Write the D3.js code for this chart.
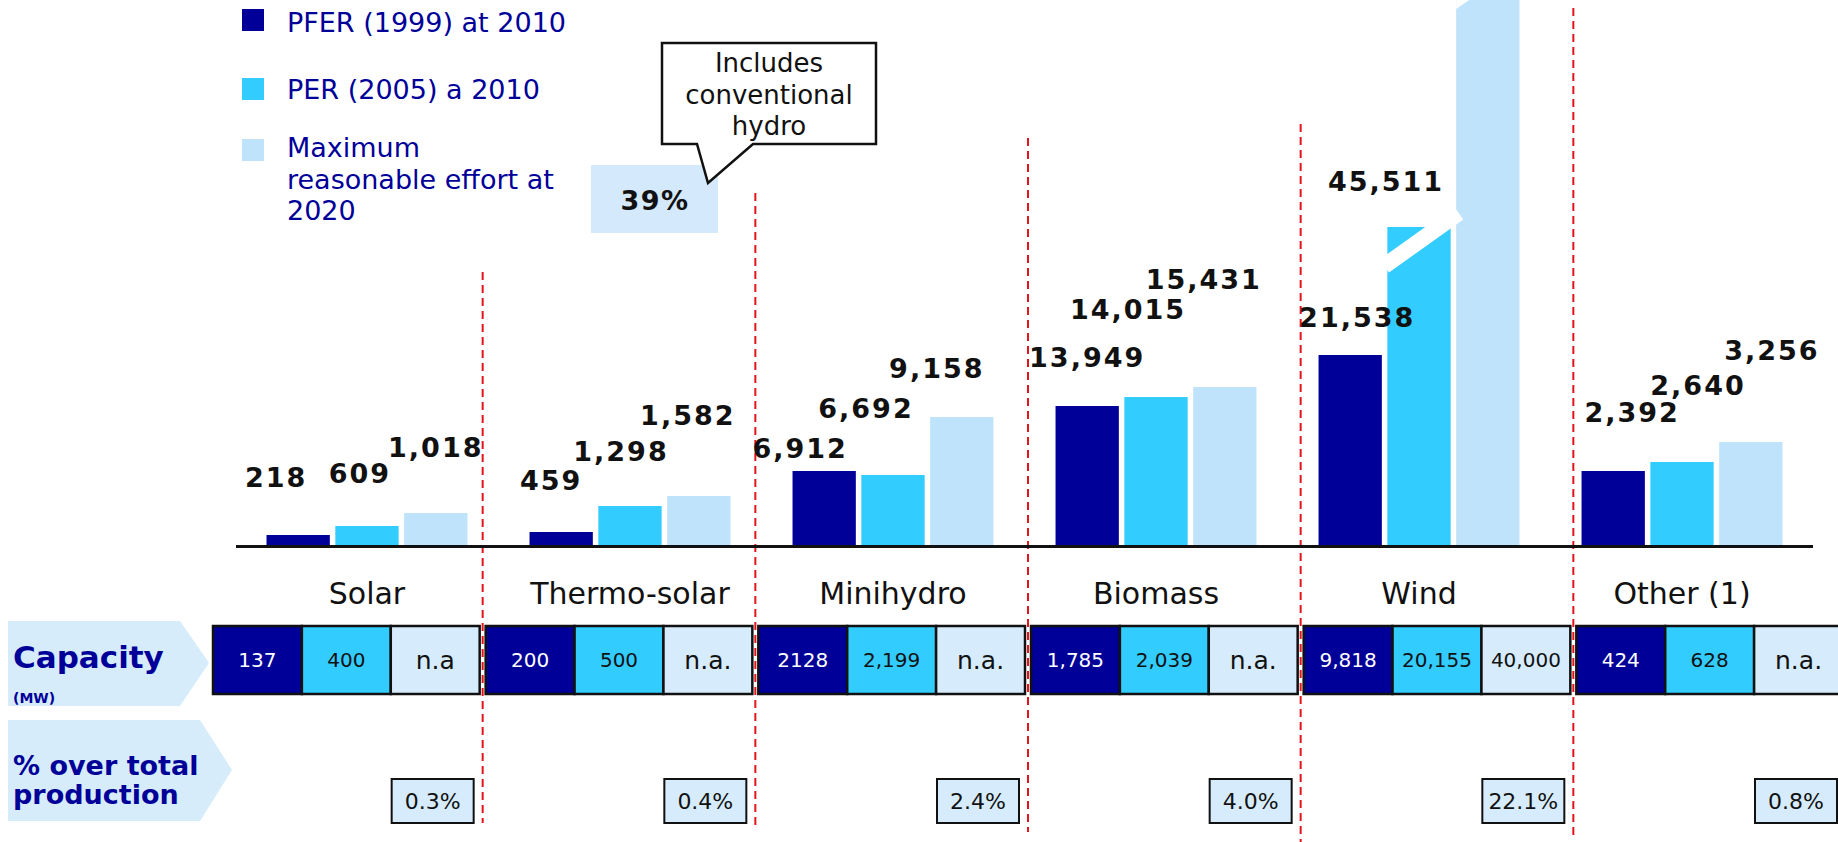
<!DOCTYPE html>
<html>
<head>
<meta charset="utf-8">
<script src="https://cdn.jsdelivr.net/npm/d3@7"></script>
<style>
body { margin: 0; background: #fff; }
svg { display: block; font-family: "DejaVu Sans", Verdana, sans-serif; }
</style>
</head>
<body>
<div id="chart"></div>
<script>
var W = 1838, H = 842;

// categories and series
var categories = ["Solar", "Thermo-solar", "Minihydro", "Biomass", "Wind", "Other (1)"];
var legendLines = [["PFER (1999) at 2010"], ["PER (2005) a 2010"], ["Maximum", "reasonable effort at", "2020"]];

// values printed above the bars
var pferValues = [218, 459, 6912, 13949, 21538, 2392];
var perValues = [609, 1298, 6692, 14015, 45511, 2640];
var maxValues = [1018, 1582, 9158, 15431, null, 3256];

// bar heights as they are drawn in the source (not proportional to the labels), 0-100 index
var pferBar = [2.5, 3.25, 18.5, 34.75, 47.5, 18.5];
var perBar = [4.75, 9.75, 17.5, 37, 79.5, 20.75];
var maxBar = [8, 12.25, 32, 39.5, 140, 25.75];

// capacity row (MW) and % over total production
var capPfer = ["137", "200", "2128", "1,785", "9,818", "424"];
var capPer = ["400", "500", "2,199", "2,039", "20,155", "628"];
var capMax = ["n.a", "n.a.", "n.a.", "n.a.", "40,000", "n.a."];
var sharePct = ["0.3%", "0.4%", "2.4%", "4.0%", "22.1%", "0.8%"];

// styling / layout
var barColors = ["#000099", "#33ccff", "#bfe3fb"];
var cellColors = ["#000099", "#33ccff", "#d6ecfc"];
var cellText = ["#ffffff", "#111111", "#111111"];
var navy = "#000099";
// value labels are hand placed in the source: offset from bar centre / bar top
var labelDx = [[-23, -8, -1], [-11, -10, -12], [-25, -28, -26], [-1, -29, -22], [6, -34, 0], [18, 15, 20]];
var labelDy = [[-48, -43, -56], [-42, -45, -71], [-13, -57, -39], [-39, -78, -98], [-28, -36, 0], [-49, -67, -82]];
var sepTop = [272, 193, 138, 124, 8];
var sepBottom = [823, 830, 832, 842, 838];

var svg = d3.select("#chart").append("svg")
    .attr("width", W)
    .attr("height", H);

svg.append("rect").attr("width", W).attr("height", H).attr("fill", "#fff");

var baseY = 545;
var x = d3.scaleBand().domain(categories).range([236, 1813]).paddingInner(0.236).paddingOuter(0.116);
var xs = d3.scaleBand().domain([0, 1, 2]).range([0, x.bandwidth()]).paddingInner(0.08);
var y = d3.scaleLinear().domain([0, 100]).range([baseY, baseY - 400]);
// table below the bars sits on its own grid
var xt = d3.scaleBand().domain(categories).range([213, 1843]).paddingInner(0.022);
var xc = d3.scaleBand().domain([0, 1, 2]).range([0, xt.bandwidth()]);

var bars = [pferBar, perBar, maxBar];
var labels = [pferValues, perValues, maxValues];
var caps = [capPfer, capPer, capMax];

var barData = [];
categories.forEach(function(c, i){
    [0, 1, 2].forEach(function(s){
        barData.push({cat: c, i: i, s: s, v: bars[s][i], label: labels[s][i], cap: caps[s][i]});
    });
});

// separators (red dashed)
svg.append("g").selectAll("line")
    .data(categories.slice(1))
    .join("line")
    .attr("x1", function(d){ return xt(d) - xt.step() * xt.paddingInner() / 2; })
    .attr("x2", function(d){ return xt(d) - xt.step() * xt.paddingInner() / 2; })
    .attr("y1", function(d, i){ return sepTop[i]; })
    .attr("y2", function(d, i){ return sepBottom[i]; })
    .attr("stroke", "#e2141c")
    .attr("stroke-width", 2)
    .attr("stroke-dasharray", "8,5");

// bars
svg.append("g").selectAll("rect")
    .data(barData)
    .join("rect")
    .attr("x", function(d){ return x(d.cat) + xs(d.s); })
    .attr("y", function(d){ return y(d.v); })
    .attr("width", xs.bandwidth())
    .attr("height", function(d){ return baseY - y(d.v); })
    .attr("fill", function(d){ return barColors[d.s]; });

// axis break on the wind bars
var wx = x("Wind") + xs(1), wTop = y(perBar[4]);
svg.append("line")
    .attr("x1", wx - 3).attr("y1", wTop + 39)
    .attr("x2", wx + xs.bandwidth() + 8).attr("y2", wTop - 14)
    .attr("stroke", "#fff").attr("stroke-width", 16);
var lx = x("Wind") + xs(2);
svg.append("path")
    .attr("d", "M" + lx + ",0 L" + (lx + 13) + ",0 L" + lx + ",9 Z")
    .attr("fill", "#fff");

// baseline
svg.append("line")
    .attr("x1", 236).attr("x2", 1813)
    .attr("y1", baseY + 1.5).attr("y2", baseY + 1.5)
    .attr("stroke", "#111").attr("stroke-width", 3);

// value labels
svg.append("g").selectAll("text")
    .data(barData.filter(function(d){ return d.label != null; }))
    .join("text")
    .attr("x", function(d){ return x(d.cat) + xs(d.s) + xs.bandwidth() / 2 + labelDx[d.i][d.s] + 1; })
    .attr("y", function(d){ return y(d.v) + labelDy[d.i][d.s]; })
    .attr("text-anchor", "middle")
    .attr("font-size", 27)
    .attr("font-weight", "bold")
    .attr("letter-spacing", 2)
    .attr("fill", "#111")
    .text(function(d){ return d3.format(",")(d.label); });

// category names
svg.append("g").selectAll("text")
    .data(categories)
    .join("text")
    .attr("x", function(d){ return x(d) + x.bandwidth() / 2; })
    .attr("y", 604)
    .attr("text-anchor", "middle")
    .attr("font-size", 30)
    .attr("fill", "#111")
    .text(function(d){ return d; });

// capacity table
var cells = svg.append("g").selectAll("g")
    .data(barData)
    .join("g");
cells.append("rect")
    .attr("x", function(d){ return xt(d.cat) + xc(d.s); })
    .attr("y", 626)
    .attr("width", xc.bandwidth())
    .attr("height", 68)
    .attr("fill", function(d){ return cellColors[d.s]; })
    .attr("stroke", "#111")
    .attr("stroke-width", 2.5);
cells.append("text")
    .attr("x", function(d){ return xt(d.cat) + xc(d.s) + xc.bandwidth() / 2; })
    .attr("y", function(d){ return d.cap.indexOf("n.a") == 0 ? 669 : 667; })
    .attr("text-anchor", "middle")
    .attr("font-size", function(d){ return d.cap.indexOf("n.a") == 0 ? 25 : 20; })
    .attr("fill", function(d){ return cellText[d.s]; })
    .text(function(d){ return d.cap; });

// % over total production boxes
var pct = svg.append("g").selectAll("g")
    .data(categories)
    .join("g");
pct.append("rect")
    .attr("x", function(d){ return xt(d) + xt.bandwidth() - 88; })
    .attr("y", 779)
    .attr("width", 82)
    .attr("height", 44)
    .attr("fill", "#d6ecfc")
    .attr("stroke", "#111")
    .attr("stroke-width", 2);
pct.append("text")
    .attr("x", function(d){ return xt(d) + xt.bandwidth() - 47; })
    .attr("y", 809)
    .attr("text-anchor", "middle")
    .attr("font-size", 22)
    .attr("fill", "#111")
    .text(function(d, i){ return sharePct[i]; });

// row headers (arrow shapes)
svg.append("path")
    .attr("d", "M8,621 H180 L209,663 L180,706 H8 Z")
    .attr("fill", "#d6ecfb");
svg.append("path")
    .attr("d", "M8,720 H200 L232,770 L200,821 H8 Z")
    .attr("fill", "#d6ecfb");
svg.append("text").attr("x", 13).attr("y", 668)
    .attr("font-size", 31).attr("font-weight", "bold").attr("fill", navy)
    .text("Capacity");
svg.append("text").attr("x", 13).attr("y", 703)
    .attr("font-size", 14).attr("font-weight", "bold").attr("fill", navy)
    .text("(MW)");
svg.append("text").attr("x", 13).attr("y", 775)
    .attr("font-size", 27).attr("font-weight", "bold").attr("fill", navy)
    .text("% over total");
svg.append("text").attr("x", 13).attr("y", 804)
    .attr("font-size", 27).attr("font-weight", "bold").attr("fill", navy)
    .text("production");

// legend
var legendTop = [9, 78, 139];
var legendBase = [32, 99, 157];
var lg = svg.append("g").selectAll("g")
    .data(legendLines)
    .join("g");
lg.append("rect")
    .attr("x", 242)
    .attr("y", function(d, i){ return legendTop[i]; })
    .attr("width", 22).attr("height", 22)
    .attr("fill", function(d, i){ return barColors[i]; });
lg.append("text")
    .attr("x", 287)
    .attr("y", function(d, i){ return legendBase[i]; })
    .attr("font-size", 27)
    .attr("fill", navy)
    .selectAll("tspan")
    .data(function(d){ return d; })
    .join("tspan")
    .attr("x", 287)
    .attr("dy", function(d, j){ return j == 0 ? 0 : 31.5; })
    .text(function(d){ return d; });

// 39% box and callout
svg.append("rect")
    .attr("x", 591).attr("y", 165).attr("width", 127).attr("height", 68)
    .attr("fill", "#d4e9fb");
svg.append("text")
    .attr("x", 655).attr("y", 210)
    .attr("text-anchor", "middle")
    .attr("font-size", 27).attr("font-weight", "bold").attr("letter-spacing", 1.5)
    .attr("fill", "#111")
    .text("39%");
svg.append("path")
    .attr("d", "M662,43 H876 V144 H753 L708,183 L697,144 H662 Z")
    .attr("fill", "#fff")
    .attr("stroke", "#111")
    .attr("stroke-width", 2.5);
svg.append("text")
    .attr("x", 769).attr("y", 72)
    .attr("text-anchor", "middle")
    .attr("font-size", 26)
    .attr("fill", "#111")
    .selectAll("tspan")
    .data(["Includes", "conventional", "hydro"])
    .join("tspan")
    .attr("x", 769)
    .attr("dy", function(d, j){ return j == 0 ? 0 : 31.5; })
    .text(function(d){ return d; });
</script>
</body>
</html>
